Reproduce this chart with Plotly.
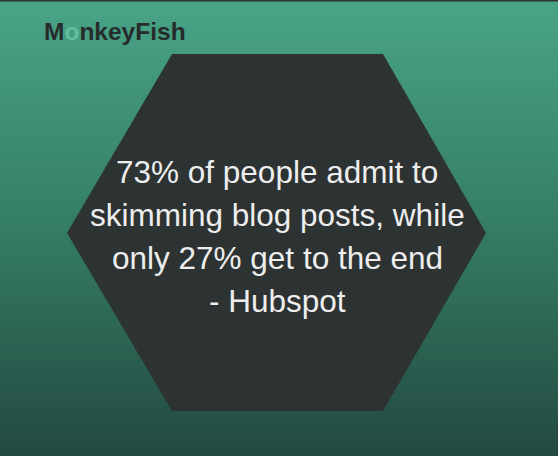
import plotly.graph_objects as go
import numpy as np

W, H = 558, 456

# Hexagon outline (pixel coordinates, y measured from top)
hex_x = [172, 383, 486, 383, 172, 67, 172]
hex_y = [54, 54, 233, 411, 411, 233, 54]

# Quote lines and their vertical centres
quote_lines = ["73% of people admit to",
               "skimming blog posts, while",
               "only 27% get to the end",
               "- Hubspot"]
quote_y = [172, 215, 258, 301]

logo_text = "M<span style='color:#5fbf9e'>o</span>nkeyFish"

# background gradient stops (top -> bottom)
bg_pos = [0, 0.5, 1]
bg_colors = ["rgb(73,164,135)", "rgb(52,124,101)", "rgb(35,73,64)"]

fig = go.Figure()

ys = np.linspace(0, H, 60)
fig.add_trace(go.Heatmap(
    x=[0, W], y=ys, z=[[v, v] for v in ys],
    colorscale=[[p, c] for p, c in zip(bg_pos, bg_colors)],
    zmin=0, zmax=H, showscale=False, zsmooth="best", hoverinfo="skip"))

fig.add_trace(go.Scatter(
    x=hex_x, y=hex_y, mode="lines", fill="toself",
    fillcolor="#2d3333", line=dict(width=0, color="#2d3333"),
    hoverinfo="skip", showlegend=False))

for t, yy in zip(quote_lines, quote_y):
    fig.add_annotation(x=277, y=yy, text=t, showarrow=False,
                       xanchor="center", yanchor="middle",
                       font=dict(family="Liberation Sans, Arial, sans-serif",
                                 size=31.5, color="#eeeeee"))

fig.add_annotation(x=42, y=31, text="<b>" + logo_text + "</b>", showarrow=False,
                   xanchor="left", yanchor="middle",
                   font=dict(family="Liberation Sans, Arial, sans-serif",
                             size=24.5, color="#262b2b"))

fig.add_shape(type="line", x0=0, x1=W, y0=0.5, y1=0.5,
              line=dict(color="#2d3333", width=2))

fig.update_layout(
    width=W, height=H, margin=dict(l=0, r=0, t=0, b=0),
    paper_bgcolor="#2d3333", plot_bgcolor="#2d3333",
    showlegend=False,
    xaxis=dict(range=[0, W], visible=False, fixedrange=True),
    yaxis=dict(range=[H, 0], visible=False, fixedrange=True),
)

fig.write_html("out.html", config={"displayModeBar": False},
               post_script="document.body.style.margin='0';document.body.style.overflow='hidden';")
